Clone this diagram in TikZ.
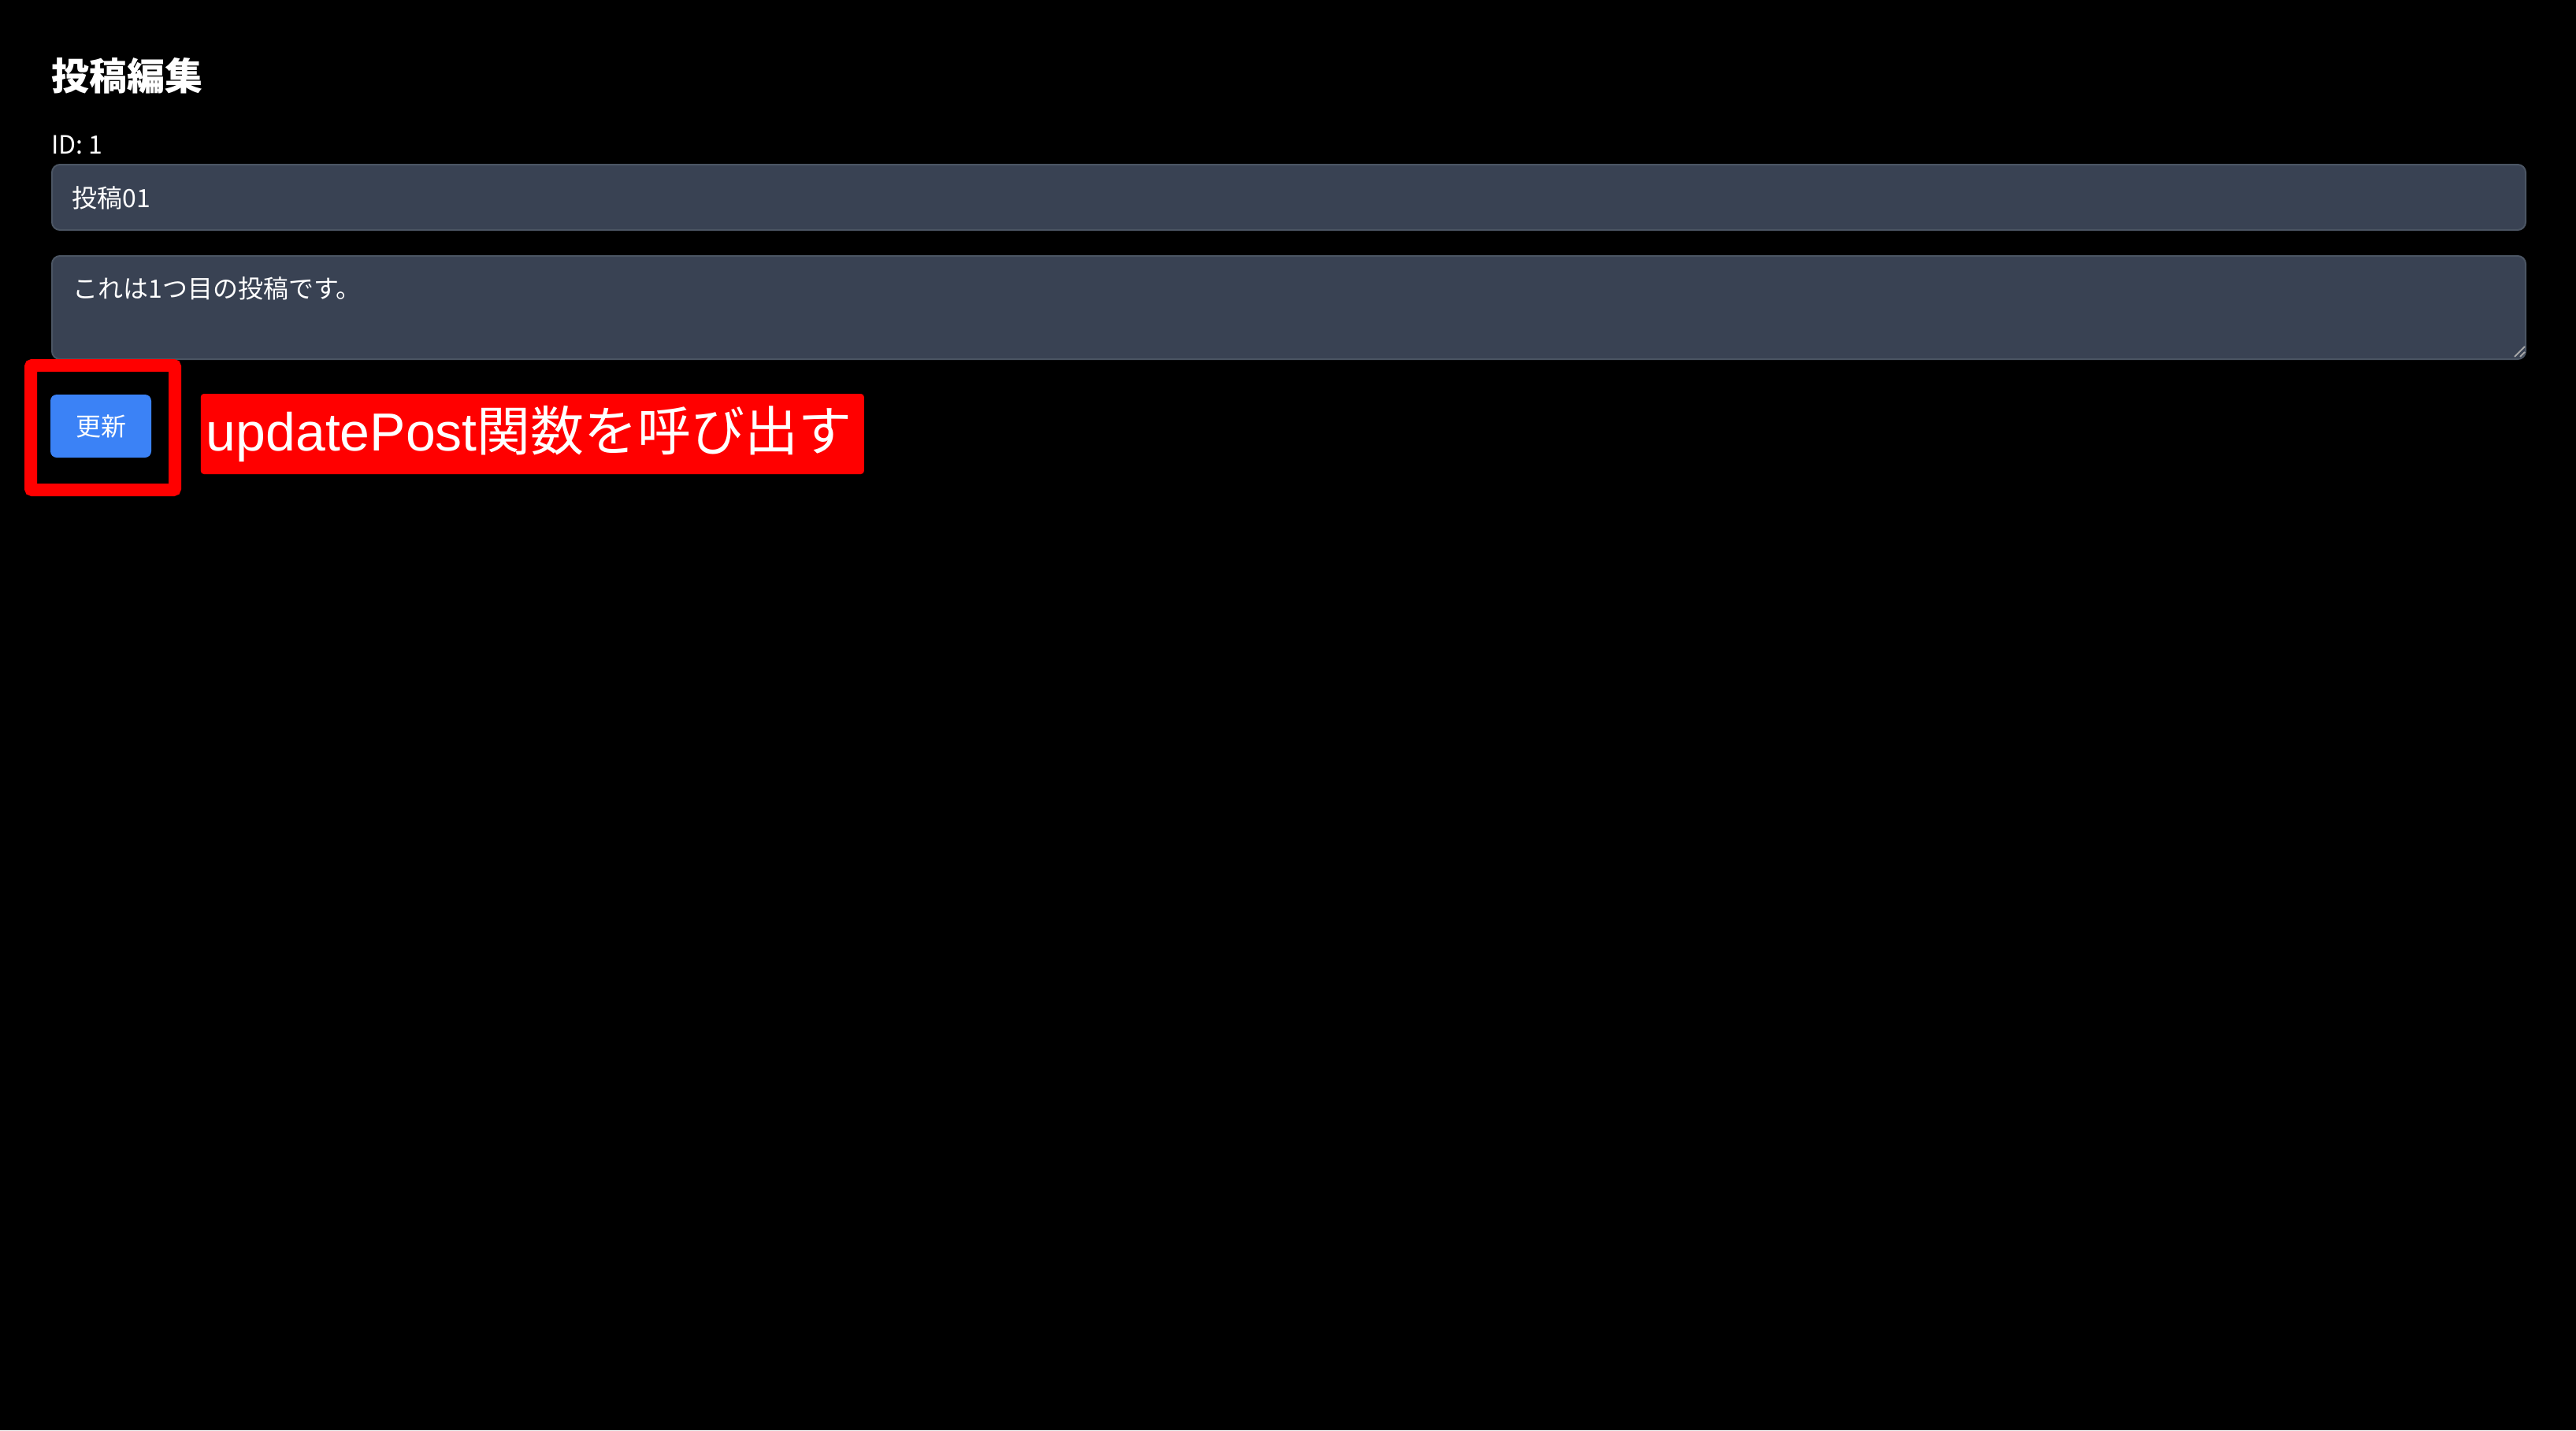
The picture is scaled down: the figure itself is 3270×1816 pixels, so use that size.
\documentclass[tikz,border=0pt]{standalone}
\usepackage{fontspec}
\setmainfont{Liberation Sans}
\newfontfamily\jpfont{Noto Sans CJK JP}
\usepackage{xcolor}
\definecolor{fieldbg}{HTML}{394253}
\definecolor{fieldline}{HTML}{4B5563}
\definecolor{btnblue}{HTML}{3B82F6}
\definecolor{markred}{HTML}{FF0000}
\usepackage{tikz}
\usetikzlibrary{positioning}

\begin{document}
\begin{tikzpicture}[x=0.5pt,y=-0.5pt,text=white,
  heading/.style={font=\jpfont\bfseries\fontsize{24}{28}\selectfont,inner sep=0pt},
  plain/.style={font=\jpfont\fontsize{16}{19}\selectfont,inner sep=0pt},
  field/.style={draw=fieldline,fill=fieldbg,line width=1pt,rounded corners=5pt,
    minimum width=1570pt,inner sep=0pt},
  btn/.style={fill=btnblue,rounded corners=4pt,minimum width=64pt,minimum height=40pt,
    font=\jpfont\fontsize{16}{19}\selectfont,inner sep=0pt},
  hl/.style={draw=markred,line width=8pt,rounded corners=1pt,minimum width=91.5pt,
    minimum height=79pt,inner sep=0pt},
  callout/.style={fill=markred,rounded corners=2pt,minimum height=51pt,text width=414pt,
    align=left,inner xsep=3.5pt,font=\fontsize{34}{40}\selectfont},
  grip/.style={draw=gray!70,line width=1pt}]
  \fill[black] (0,0) rectangle (3270,1816);
  \useasboundingbox (0,0) rectangle (3270,1816);

  \node[heading,anchor=base west] (title) at (65,114) {投稿編集};
  \node[plain,anchor=base west] (id) at (65,195) {ID: 1};

  % input fields
  \node[field,anchor=north west,minimum height=41.5pt] (titlefield) at (65,208) {};
  \node[plain,anchor=base west] (titletext) at (91,263) {投稿01};
  \node[field,anchor=north west,minimum height=65.5pt] (bodyfield) at (65,324) {};
  \node[plain,anchor=base west] (bodytext) at (92,378) {これは1つ目の投稿です。};
  \draw[grip] ([shift={(-15,-4)}]bodyfield.south east) -- ++(13,-13);
  \draw[grip] ([shift={(-8,-4)}]bodyfield.south east) -- ++(6,-6);

  % button and note
  \node[btn] (update) at (128,541) {更新};
  \node[hl] (mark) at (130.5,543) {};
  \node[callout,right=31pt of update,yshift=-5pt] (call) {updatePost{\jpfont 関数を呼び出す}};
\end{tikzpicture}
\end{document}
